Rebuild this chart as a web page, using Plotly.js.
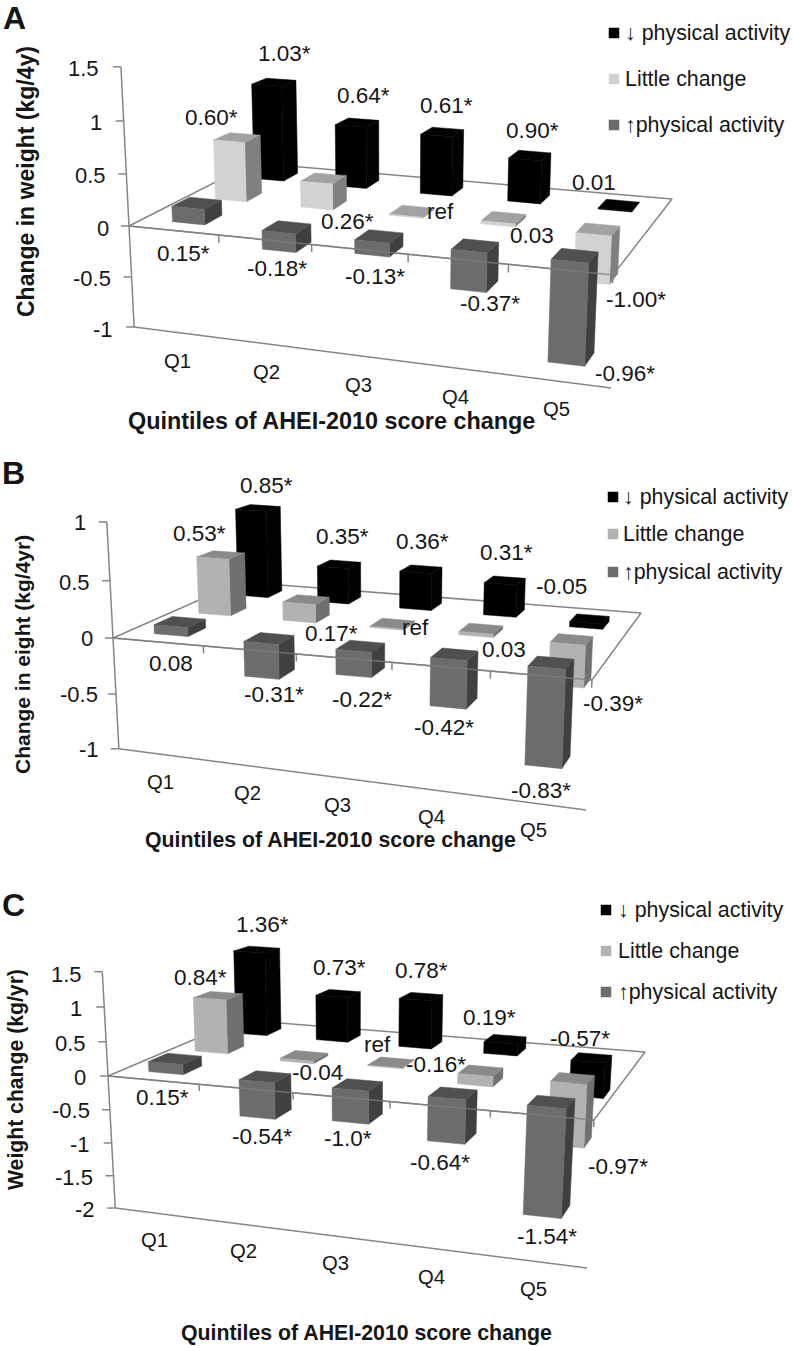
<!DOCTYPE html>
<html>
<head>
<meta charset="utf-8">
<script src="https://cdn.plot.ly/plotly-3.0.1.min.js"></script>
<style>html,body{margin:0;padding:0;background:#fff}</style>
</head>
<body>
<div id="chart" style="width:793px;height:1346px"></div>
<script>
// ---------- data ----------
const quintiles = ['Q1','Q2','Q3','Q4','Q5'];
const seriesNames = ['↓ physical activity','Little change','↑physical activity'];

// bar heights as drawn
const A_down   = [1.00, 0.64, 0.61, 0.44, 0.01];
const A_little = [0.60, 0.26, 0.01, 0.03, -0.47];
const A_up     = [0.15, -0.18, -0.13, -0.37, -0.96];
const B_down   = [0.85, 0.35, 0.36, 0.31, -0.05];
const B_little = [0.53, 0.17, 0.01, 0.03, -0.39];
const B_up     = [0.08, -0.31, -0.22, -0.42, -0.86];
const C_down   = [1.36, 0.73, 0.78, 0.19, -0.57];
const C_little = [0.84, -0.04, 0.01, -0.16, -0.97];
const C_up     = [0.15, -0.54, -0.48, -0.64, -1.58];

// printed value labels
const A_labels = ['1.03*','0.64*','0.61*','0.90*','0.01','0.60*','0.26*','ref','0.03','-1.00*','0.15*','-0.18*','-0.13*','-0.37*','-0.96*'];
const B_labels = ['0.85*','0.35*','0.36*','0.31*','-0.05','0.53*','0.17*','ref','0.03','-0.39*','0.08','-0.31*','-0.22*','-0.42*','-0.83*'];
const C_labels = ['1.36*','0.73*','0.78*','0.19*','-0.57*','0.84*','-0.04','ref','-0.16*','-0.97*','0.15*','-0.54*','-1.0*','-0.64*','-1.54*'];

const A_ticks = [1.5, 1, 0.5, 0, -0.5, -1];
const B_ticks = [1, 0.5, 0, -0.5, -1];
const C_ticks = [1.5, 1, 0.5, 0, -0.5, -1, -1.5, -2];

// ---------- layout of each panel (page pixels) ----------
const panels = [
 { letter:'A', letterPos:[14,18], band:[0,445], rows:[A_up,A_little,A_down], labels:A_labels, ticks:A_ticks,
   tickLabel:['1.5','1','0.5','0','-0.5','-1'], baseEnd:[611,388], barLeft:0.033, barRight:0.04,
   floor:[[129,226],[613,275],[672,199],[253,163]], vanish:[391,5400], k:-0.0199,
   labelPos:[[284,53],[363,95],[446,105],[532,130],[594,182],[211,117],[347,221],[440,211],[532,235],[636,299],[183,253],[277,268],[375,276],[490,303],[625,373]],
   qPos:[[177,361],[266,372],[358,385],[455,397],[556,409]],
   tickRight:[100,103,107,110,112,114], tickY:[68,122,175,228,278,329],
   xTitle:'Quintiles of AHEI-2010 score change', xTitlePos:[331,421], xTitleSize:23.4,
   yTitle:'Change in weight (kg/4y)', yTitlePos:[26,182], yTitleSize:23,
   legend:[[614,33],[614,79],[614,125]], legendX:624, little:['#d2d2d2','#a2a2a2','#808080'] },
 { letter:'B', letterPos:[13,473], band:[445,870], rows:[B_up,B_little,B_down], labels:B_labels, ticks:B_ticks,
   tickLabel:['1','0.5','0','-0.5','-1'], baseEnd:[586,810], barLeft:0.04, barRight:0.036,
   floor:[[113,638],[592,680],[641,613],[240,582]], vanish:[376,5600], k:-0.02284,
   labelPos:[[266,486],[342,537],[422,542],[506,553],[561,587],[199,534],[331,634],[415,628],[504,650],[613,704],[171,664],[274,695],[362,700],[444,728],[541,791]],
   qPos:[[160,782],[247,793],[337,805],[431,817],[533,830]],
   tickRight:[87,91,94,99,100], tickY:[523,583,639,695,750],
   xTitle:'Quintiles of AHEI-2010 score change', xTitlePos:[330,840], xTitleSize:21.3,
   yTitle:'Change in eight (kg/4yr)', yTitlePos:[23,655], yTitleSize:21,
   legend:[[613,497],[613,534],[613,572]], legendX:622, little:['#b2b2b2','#8a8a8a','#707070'] },
 { letter:'C', letterPos:[13,905], band:[870,1346], rows:[C_up,C_little,C_down], labels:C_labels, ticks:C_ticks,
   tickLabel:['1.5','1','0.5','0','-0.5','-1','-1.5','-2'], baseEnd:[587,1268], barLeft:0.043, barRight:0.034,
   floor:[[108,1076],[594,1120],[645,1052],[240,1020]], vanish:[358,5630], k:-0.01493,
   labelPos:[[262,924],[339,967],[421,970],[489,1017],[580,1038],[200,977],[317,1072],[377,1044],[436,1064],[618,1166],[162,1097],[262,1136],[348,1138],[440,1162],[547,1236]],
   qPos:[[154,1240],[243,1251],[335,1263],[431,1277],[533,1289]],
   tickRight:[83,83,87,87,91,91,94,96], tickY:[974,1008,1043,1077,1110,1144,1177,1209],
   xTitle:'Quintiles of AHEI-2010 score change', xTitlePos:[366,1333], xTitleSize:21.3,
   yTitle:'Weight change (kg/yr)', yTitlePos:[16,1080], yTitleSize:21.2,
   legend:[[606,910],[606,951],[606,992]], legendX:617, little:['#b2b2b2','#8a8a8a','#707070'] }
];

const AXIS = '#868686', TXT = '#161616', FONT = '"Liberation Sans", Arial, sans-serif';
const UP = ['#6c6c6c','#505050','#404040'], DOWN = ['#000000','#020202','#020202'];
const BAR_S = 1/3*0.2;   // bar half depth on the floor

// projective mapping of (category position, row position, value) to the page
function makeProjector(p) {
  const [[x0,y0],[x1,y1],[x2,y2],[x3,y3]] = p.floor;
  const dx1=x1-x2, dx2=x3-x2, sx=x0-x1+x2-x3, dy1=y1-y2, dy2=y3-y2, sy=y0-y1+y2-y3;
  const den=dx1*dy2-dx2*dy1, g=(sx*dy2-dx2*sy)/den, h=(dx1*sy-sx*dy1)/den;
  const a=x1-x0+g*x1, b=x3-x0+h*x3, d=y1-y0+g*y1, e=y3-y0+h*y3;
  return (q,s,v) => {
    const w=g*q+h*s+1+v*p.k;
    return [(a*q+b*s+x0+v*p.k*p.vanish[0])/w, (d*q+e*s+y0+v*p.k*p.vanish[1])/w];
  };
}

const traces = [], annotations = [], layout = {
  width:793, height:1346, margin:{l:0,r:0,t:0,b:0}, showlegend:false,
  paper_bgcolor:'#fff', plot_bgcolor:'rgba(0,0,0,0)', hovermode:false
};

panels.forEach((p,idx) => {
  const n = idx+1, xa = n===1?'x':'x'+n, ya = n===1?'y':'y'+n;
  layout[n===1?'xaxis':'xaxis'+n] = {domain:[0,1], range:[0,793], visible:false, fixedrange:true, anchor:ya};
  layout[n===1?'yaxis':'yaxis'+n] = {domain:[1-p.band[1]/1346, 1-p.band[0]/1346], range:[p.band[1],p.band[0]], visible:false, fixedrange:true, anchor:xa};
  const P = makeProjector(p);
  const line = (pts,color,width) => traces.push({type:'scatter',mode:'lines',xaxis:xa,yaxis:ya,hoverinfo:'skip',
     x:pts.map(a=>a[0]),y:pts.map(a=>a[1]),line:{color:color||AXIS,width:width||1.5}});
  const poly = (pts,color) => traces.push({type:'scatter',mode:'lines',fill:'toself',fillcolor:color,xaxis:xa,yaxis:ya,hoverinfo:'skip',
     x:pts.concat([pts[0]]).map(a=>a[0]),y:pts.concat([pts[0]]).map(a=>a[1]),line:{color:color,width:0.5}});
  const vMax=p.ticks[0], vMin=p.ticks[p.ticks.length-1];

  // value axis, ticks, floor and base line
  line([P(0,0,vMax),P(0,0,vMin)]);
  p.ticks.forEach(v => { const t=P(0,0,v); line([[t[0]-8,t[1]],t]); });
  line([P(0,0,vMin),p.baseEnd]);
  line([P(0,0,0),P(0,1,0),P(1,1,0),P(1,0,0),P(0,0,0)]);
  for (let i=1;i<=5;i++) { line([P(i/5,0,0),P(i/5,0,-8/(-p.k*(5500)))]); }

  // bars, back row first
  const palettes=[UP,p.little,DOWN];
  for (let r=2;r>=0;r--) {
    const vals=p.rows[r], c=palettes[r], sc=(r+0.5)/3;
    vals.forEach((v,i) => {
      const qc=(i+0.5)/5, q0=qc-p.barLeft, q1=qc+p.barRight, s0=sc-BAR_S, s1=sc+BAR_S, t=Math.max(v,0), b=Math.min(v,0);
      poly([P(q1,s0,b),P(q1,s1,b),P(q1,s1,t),P(q1,s0,t)],c[2]);
      poly([P(q0,s0,t),P(q1,s0,t),P(q1,s1,t),P(q0,s1,t)],c[1]);
      poly([P(q0,s0,b),P(q1,s0,b),P(q1,s0,t),P(q0,s0,t)],c[0]);
    });
  }
  // front edge of the floor shows across the bars
  line([P(0,0,0),P(1,0,0)],'rgba(125,125,125,0.75)',1.5);

  const ann = (text,x,y,size,extra) => annotations.push(Object.assign({text,x,y,xref:xa,yref:ya,showarrow:false,
     font:{family:FONT,size,color:TXT},xanchor:'center',yanchor:'middle',borderpad:0},extra||{}));

  p.labels.forEach((t,i) => ann(t,p.labelPos[i][0],p.labelPos[i][1],22.5));
  quintiles.forEach((t,i) => ann(t,p.qPos[i][0],p.qPos[i][1],20.3));
  p.tickLabel.forEach((t,i) => ann(t,p.tickRight[i],p.tickY[i],22,{xanchor:'right'}));
  ann('<b>'+p.xTitle+'</b>',p.xTitlePos[0],p.xTitlePos[1],p.xTitleSize);
  ann('<b>'+p.yTitle+'</b>',p.yTitlePos[0],p.yTitlePos[1],p.yTitleSize,{textangle:-90});
  ann('<b>'+p.letter+'</b>',p.letterPos[0],p.letterPos[1],32);

  // key
  [DOWN[0],p.little[0],UP[0]].forEach((c,i) => {
    traces.push({type:'scatter',mode:'markers',xaxis:xa,yaxis:ya,hoverinfo:'skip',name:seriesNames[i],
      x:[p.legend[i][0]],y:[p.legend[i][1]],marker:{symbol:'square',size:10.5,color:c}});
    ann(seriesNames[i],p.legendX,p.legend[i][1],21.4,{xanchor:'left'});
  });
});
layout.annotations = annotations;
Plotly.newPlot('chart',traces,layout,{displayModeBar:false,responsive:false});
</script>
</body>
</html>
